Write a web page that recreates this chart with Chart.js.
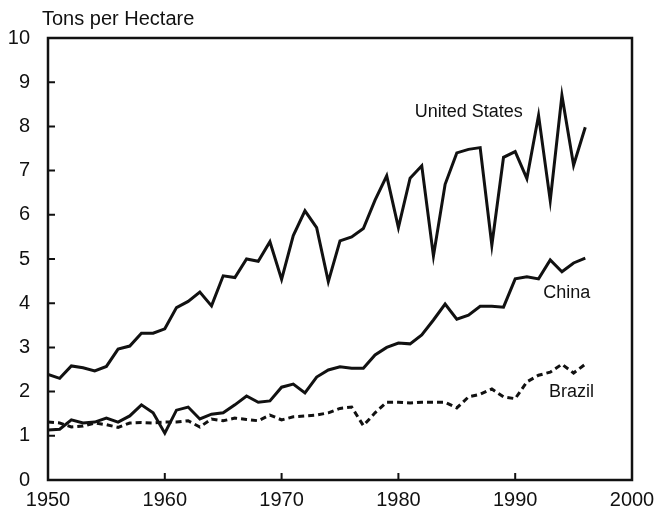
<!DOCTYPE html>
<html>
<head>
<meta charset="utf-8">
<script src="https://cdn.jsdelivr.net/npm/chart.js@4/dist/chart.umd.min.js"></script>
<style>
  html, body { margin: 0; padding: 0; background: #fff; }
  canvas { display: block; }
</style>
</head>
<body>
<canvas id="my-chart" width="665" height="519"></canvas>
<script>
// years 1950..1996
let years = [];
for (let y = 1950; y <= 1996; y++) years.push(y);

let usYield = [2.39, 2.30, 2.58, 2.54, 2.47, 2.57, 2.96, 3.03, 3.32, 3.32,
               3.42, 3.90, 4.04, 4.25, 3.94, 4.62, 4.58, 5.00, 4.95, 5.39,
               4.54, 5.53, 6.09, 5.71, 4.49, 5.41, 5.50, 5.69, 6.33, 6.88,
               5.71, 6.83, 7.11, 5.07, 6.69, 7.40, 7.48, 7.52, 5.31, 7.30,
               7.43, 6.82, 8.25, 6.32, 8.70, 7.12, 7.98];

let chinaYield = [1.13, 1.15, 1.36, 1.29, 1.31, 1.40, 1.31, 1.45, 1.70, 1.52,
                  1.06, 1.58, 1.65, 1.38, 1.49, 1.52, 1.70, 1.90, 1.76, 1.79,
                  2.10, 2.17, 1.97, 2.33, 2.49, 2.56, 2.53, 2.53, 2.83, 3.00,
                  3.10, 3.08, 3.28, 3.62, 3.98, 3.64, 3.73, 3.93, 3.93, 3.91,
                  4.55, 4.60, 4.55, 4.98, 4.71, 4.91, 5.02];

let brazilYield = [1.31, 1.29, 1.20, 1.22, 1.29, 1.25, 1.19, 1.29, 1.30, 1.29,
                   1.31, 1.31, 1.34, 1.20, 1.38, 1.34, 1.40, 1.37, 1.34, 1.47,
                   1.36, 1.43, 1.45, 1.47, 1.52, 1.62, 1.65, 1.23, 1.52, 1.76,
                   1.76, 1.74, 1.76, 1.76, 1.76, 1.63, 1.88, 1.94, 2.06, 1.88,
                   1.84, 2.22, 2.37, 2.44, 2.62, 2.42, 2.62];

let xTicks = [1950, 1960, 1970, 1980, 1990, 2000];
let yTicks = [0, 1, 2, 3, 4, 5, 6, 7, 8, 9, 10];

// series labels: [text, x value, y value]
let seriesLabels = [
    ['United States', 1981.4, 8.33],
    ['China', 1992.4, 4.23],
    ['Brazil', 1992.9, 1.99]
];

const FONT = '"Liberation Sans", Arial, Helvetica, sans-serif';
const INK = '#111';

function toPoints(vals) {
    return vals.map((v, i) => ({ x: years[i], y: v }));
}

// frame, inward ticks, axis title and series labels
const decorations = {
    id: 'decorations',
    afterDraw(chart) {
        const c = chart.ctx;
        const a = chart.chartArea;
        const xs = chart.scales.x;
        const ys = chart.scales.y;
        c.save();
        c.strokeStyle = INK;
        c.lineWidth = 2.5;
        c.strokeRect(a.left, a.top, a.right - a.left, a.bottom - a.top);
        c.lineWidth = 2;
        c.beginPath();
        yTicks.forEach(t => {
            const py = ys.getPixelForValue(t);
            c.moveTo(a.left, py);
            c.lineTo(a.left + 7, py);
        });
        xTicks.forEach(t => {
            const px = xs.getPixelForValue(t);
            c.moveTo(px, a.bottom);
            c.lineTo(px, a.bottom - 7);
        });
        c.stroke();

        c.fillStyle = INK;
        c.font = '20px ' + FONT;
        c.textAlign = 'left';
        c.textBaseline = 'middle';
        c.fillText('Tons per Hectare', a.left - 6, 19);

        c.font = '18px ' + FONT;
        seriesLabels.forEach(l => {
            c.fillText(l[0], xs.getPixelForValue(l[1]), ys.getPixelForValue(l[2]));
        });
        c.restore();
    }
};

const ctx = document.getElementById('my-chart').getContext('2d');

let myChart = new Chart(ctx, {
    type: 'line',
    data: {
        datasets: [{
            label: 'United States',
            data: toPoints(usYield),
            borderColor: INK,
            borderWidth: 3,
            pointRadius: 0,
            tension: 0
        }, {
            label: 'China',
            data: toPoints(chinaYield),
            borderColor: INK,
            borderWidth: 3,
            pointRadius: 0,
            tension: 0
        }, {
            label: 'Brazil',
            data: toPoints(brazilYield),
            borderColor: INK,
            borderWidth: 3,
            borderDash: [6, 4],
            pointRadius: 0,
            tension: 0
        }]
    },
    options: {
        responsive: false,
        animation: false,
        layout: { padding: { top: 38, right: 33, left: 0, bottom: 0 } },
        plugins: {
            legend: { display: false },
            tooltip: { enabled: false }
        },
        scales: {
            x: {
                type: 'linear',
                min: 1950,
                max: 2000,
                afterBuildTicks: s => { s.ticks = xTicks.map(v => ({ value: v })); },
                afterFit: s => { s.height = 39; },
                grid: { display: false },
                border: { display: false },
                ticks: {
                    color: INK,
                    font: { family: FONT, size: 20 },
                    padding: 0,
                    maxRotation: 0,
                    callback: v => String(v)
                }
            },
            y: {
                min: 0,
                max: 10,
                afterBuildTicks: s => { s.ticks = yTicks.map(v => ({ value: v })); },
                afterFit: s => { s.width = 48; },
                grid: { display: false },
                border: { display: false },
                ticks: { color: INK, font: { family: FONT, size: 20 }, padding: 10 }
            }
        }
    },
    plugins: [decorations]
});
</script>
</body>
</html>
